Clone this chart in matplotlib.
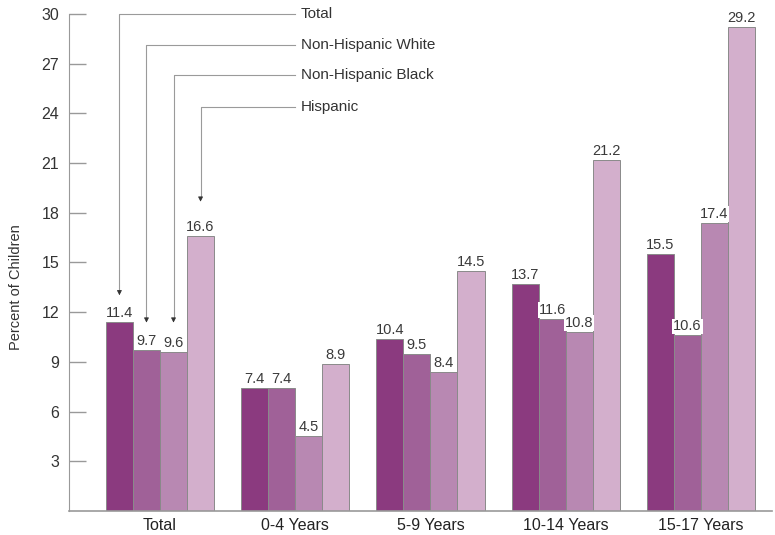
import matplotlib
matplotlib.use('Agg')
import matplotlib.pyplot as plt
import numpy as np

plt.rcParams['font.family'] = ['Liberation Sans', 'DejaVu Sans']

groups = ['Total', '0-4 Years', '5-9 Years', '10-14 Years', '15-17 Years']
series = ['Total', 'Non-Hispanic White', 'Non-Hispanic Black', 'Hispanic']
total = [11.4, 7.4, 10.4, 13.7, 15.5]
white = [9.7, 7.4, 9.5, 11.6, 10.6]
black = [9.6, 4.5, 8.4, 10.8, 17.4]
hispanic = [16.6, 8.9, 14.5, 21.2, 29.2]
yticks = [3, 6, 9, 12, 15, 18, 21, 24, 27, 30]

colors = ['#8b3a7f', '#a06198', '#b888b2', '#d3afcc']
data = [total, white, black, hispanic]

fig = plt.figure(figsize=(7.75, 5.35), dpi=100)
ax = fig.add_axes([0.089, 0.0449, 0.907, 0.929])

x = np.arange(len(groups))
w = 0.2
offs = [-1.5*w, -0.5*w, 0.5*w, 1.5*w]
for i in range(4):
    ax.bar(x + offs[i], data[i], w, color=colors[i], edgecolor='#8a8a8a', linewidth=0.7, zorder=2)
for i in range(4):
    for j in range(len(groups)):
        ax.text(x[j] + offs[i], data[i][j] + 0.12, '%.1f' % data[i][j], ha='center', va='bottom',
                fontsize=10.5, color='#3a3a3a', zorder=3,
                bbox=dict(facecolor='white', edgecolor='none', pad=0.6))

# leader lines for the legend
line_y = [30.0, 28.1, 26.3, 24.4]
tip_y = [12.85, 11.2, 11.2, 18.5]
for i in range(4):
    bx = x[0] + offs[i]
    ax.plot([1.0, bx, bx], [line_y[i], line_y[i], tip_y[i] + 0.4], color='#9a9a9a', lw=0.8,
            clip_on=False, zorder=4)
    ax.annotate('', xy=(bx, tip_y[i]), xytext=(bx, tip_y[i] + 0.5),
                arrowprops=dict(arrowstyle='-|>', color='#333333', lw=0.6, mutation_scale=7),
                zorder=4)
    ax.text(1.04, line_y[i], series[i], ha='left', va='center', fontsize=11, color='#333333')

ax.set_xlim(-0.673, 4.525)
ax.set_ylim(0, 30)
ax.set_yticks(yticks)
ax.set_yticklabels([str(t) for t in yticks], fontsize=11.5, color='#333333')
ax.set_xticks(x)
ax.set_xticklabels(groups, fontsize=11.5, color='#222222')
ax.tick_params(axis='x', length=0, pad=5)
ax.tick_params(axis='y', direction='in', length=12, color='#999999', width=1, pad=7)
ax.set_ylabel('Percent of Children', fontsize=10.5, color='#333333')
ax.yaxis.set_label_coords(-0.065, 0.45)
for s in ['top', 'right']:
    ax.spines[s].set_visible(False)
ax.spines['left'].set_color('#999999')
ax.spines['bottom'].set_color('#999999')
ax.spines['bottom'].set_linewidth(1.2)

fig.savefig('out.png', dpi=100)
